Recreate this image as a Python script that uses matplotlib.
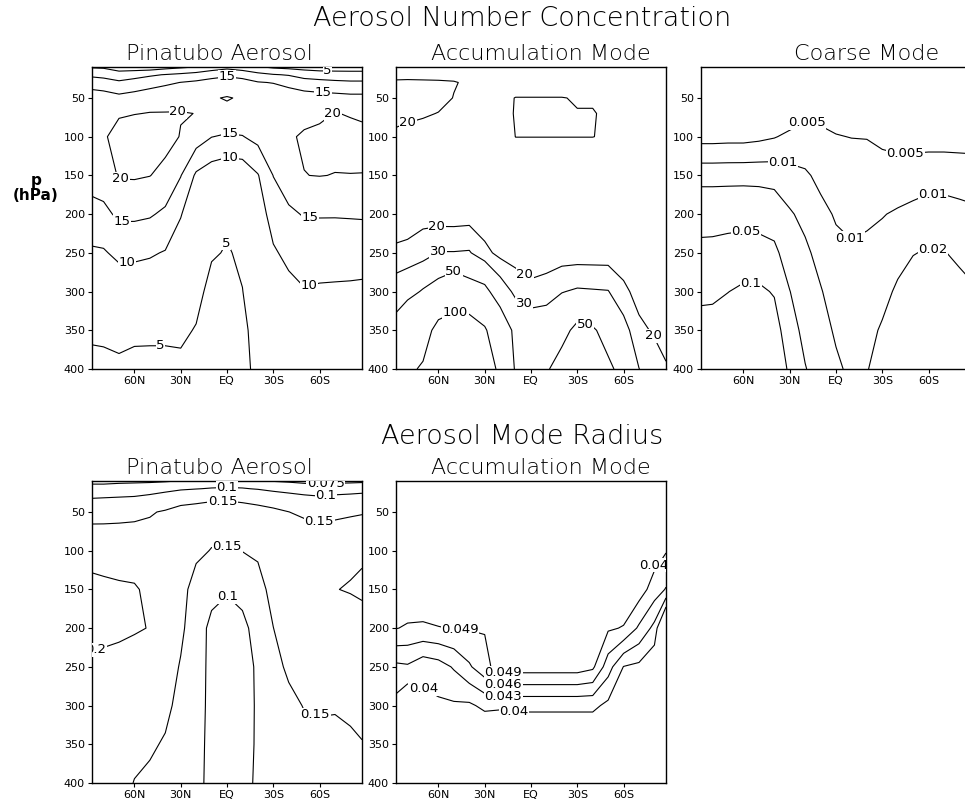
import numpy as np
import matplotlib
matplotlib.use('Agg')
import matplotlib.pyplot as plt

# grid: latitude columns (N -> S) and pressure levels (hPa)
lat = [87.5, 80, 70, 60, 50, 40, 30, 20, 10, 0, -10, -20, -30, -40, -50, -60, -70, -80, -87.5]
plev = [10, 20, 30, 50, 70, 100, 150, 200, 250, 300, 350, 400]

# one row per latitude column, values at plev (top -> bottom)
num_pinatubo = [
    [4.5, 9, 12.5, 18, 19, 19, 17, 13.3, 9.3, 7.3, 5.6, 4.0],
    [4.3, 8.5, 12, 17.5, 19.3, 19.5, 17.5, 13.8, 9.5, 7.5, 5.6, 4.2],
    [2.5, 7.2, 10.8, 16.4, 19.6, 21.5, 20.4, 15.9, 11.2, 6.6, 5.6, 4.6],
    [2.8, 7.5, 12.5, 16.7, 19.9, 22, 20.5, 15.9, 11.1, 6.5, 5.5, 4.3],
    [2.1, 9.4, 12.5, 18.75, 20.1, 22, 20.1, 15.5, 10.5, 6.9, 5.6, 4.1],
    [3.3, 10.2, 14, 19, 20.1, 21.5, 18.7, 14.1, 9.7, 7.5, 5.8, 3.8],
    [4.2, 11, 15.1, 18.5, 20.2, 19.8, 15.2, 10.2, 8.2, 6.8, 5.6, 4.3],
    [5.1, 12, 15.8, 19, 19.95, 17.5, 9.2, 7.5, 6.8, 6.0, 4.8, 4.2],
    [7, 13.5, 16.5, 19.6, 19.2, 15.1, 7.2, 6.3, 5.3, 4.0, 3.5, 3.3],
    [8.5, 14.3, 17, 20.3, 18.8, 14.4, 6.2, 5.5, 4.8, 3.4, 3.0, 2.8],
    [7.2, 13.5, 16.5, 19.5, 18.5, 14.8, 6.6, 5.8, 5.4, 4.95, 4.3, 4.0],
    [5.5, 11.5, 15.3, 19, 19.2, 16.5, 9.7, 7.5, 6.8, 6.5, 6.2, 5.9],
    [4.2, 10.3, 14.8, 18.5, 19.3, 19, 15.1, 12, 9.4, 8, 7.2, 6.6],
    [3.6, 9.7, 13.2, 18.6, 19.4, 19.7, 17.5, 14.2, 11.2, 8.6, 7.6, 7.0],
    [2.8, 8.5, 11.6, 17.8, 19.3, 20.3, 19.95, 15.3, 12.3, 9.7, 8.5, 8.0],
    [2.5, 7.5, 11.5, 17, 19.2, 21, 20.1, 15.5, 10.5, 9.86, 9.0, 8.5],
    [2.5, 7.2, 11, 16.8, 20.1, 21.2, 19.9, 15.4, 11.2, 9.6, 9.0, 8.7],
    [2.7, 6.9, 10.7, 16.4, 19.8, 20.9, 19.95, 15.5, 11.3, 9.5, 9.1, 8.9],
    [2.7, 6.9, 10.7, 16.4, 19.6, 20.7, 19.95, 15.6, 11.3, 9.4, 9.2, 9.1],
]

num_accum = [
    [17, 19, 20.5, 22, 21.5, 19, 17, 17, 21, 38, 60, 80],
    [17, 19, 20.6, 22, 21, 18.5, 17, 17.2, 21.5, 43, 75, 92],
    [17, 19, 20.5, 21.5, 20.4, 18.5, 17, 17.5, 24, 52, 80, 105],
    [17, 19, 20.4, 21, 19.9, 18, 16, 15.1, 30.5, 60, 115, 150],
    [17, 19, 20.2, 19.9, 18.5, 17.5, 16, 15, 30.5, 70, 125, 160],
    [17, 18.8, 19.5, 19, 18, 17, 16, 15.5, 31, 60, 128, 160],
    [17, 18.8, 19.5, 19, 18, 17, 15.5, 13, 23, 56, 105, 140],
    [17, 18.8, 19.5, 19, 18.3, 17.5, 16, 14, 17, 38, 68, 85],
    [17, 18.5, 18, 20.1, 20.3, 20.05, 16, 14, 15.5, 27, 44, 47],
    [17, 18.5, 18, 20.1, 20.3, 20.05, 16, 14, 15, 22.5, 40, 46],
    [17, 18.5, 18, 20.1, 20.3, 20.05, 16, 14, 15.5, 24, 41, 48],
    [17, 18.5, 18, 20.1, 20.3, 20.05, 16, 14.5, 15, 29.5, 44, 58],
    [17, 18.5, 18, 19.8, 20.1, 20.05, 16, 14.5, 15, 31.5, 55, 70],
    [17, 18.5, 18, 19.8, 20.1, 20.05, 16, 14.5, 15, 31, 52, 65],
    [17, 18.5, 18, 19.5, 19.7, 19.6, 16, 14.5, 15, 30.5, 44, 53],
    [17, 18.5, 18, 19.5, 19.5, 19.3, 16, 14.5, 15, 22, 35, 45],
    [17, 18.5, 18, 19.5, 19.5, 19.3, 16, 14.5, 15, 17, 22, 30.2],
    [17, 18.5, 18, 19.5, 19.5, 19.3, 16, 14.5, 15, 16.5, 19, 24],
    [17, 18.5, 18, 19.5, 19.5, 19.3, 16, 14.5, 15, 16, 18, 20.5],
]

num_coarse = [
    [0.0012, 0.0015, 0.0018, 0.0022, 0.0028, 0.0039, 0.0155, 0.037, 0.061, 0.086, 0.13, 0.16],
    [0.0012, 0.0015, 0.0018, 0.0022, 0.0028, 0.0039, 0.0155, 0.037, 0.062, 0.088, 0.13, 0.16],
    [0.0012, 0.0015, 0.0018, 0.0022, 0.0028, 0.0040, 0.0156, 0.038, 0.066, 0.099, 0.14, 0.18],
    [0.0012, 0.0015, 0.0018, 0.0022, 0.0028, 0.0040, 0.0157, 0.0386, 0.069, 0.111, 0.15, 0.19],
    [0.0012, 0.0015, 0.0018, 0.0023, 0.003, 0.0043, 0.0156, 0.0368, 0.0676, 0.111, 0.15, 0.19],
    [0.0013, 0.0016, 0.0019, 0.0025, 0.0035, 0.0048, 0.015, 0.033, 0.060, 0.0955, 0.13, 0.16],
    [0.0013, 0.0017, 0.002, 0.0027, 0.0034, 0.0058, 0.0126, 0.0217, 0.033, 0.051, 0.07, 0.09],
    [0.0014, 0.0018, 0.0023, 0.0034, 0.0043, 0.0063, 0.011, 0.0164, 0.023, 0.0303, 0.040, 0.052],
    [0.0015, 0.002, 0.0025, 0.0037, 0.0044, 0.0056, 0.0085, 0.0119, 0.0159, 0.021, 0.027, 0.035],
    [0.0014, 0.0018, 0.0023, 0.0038, 0.0043, 0.0051, 0.007, 0.0094, 0.0118, 0.0146, 0.018, 0.023],
    [0.0014, 0.0018, 0.0022, 0.0033, 0.0042, 0.00495, 0.0065, 0.0085, 0.0109, 0.0128, 0.015, 0.017],
    [0.0014, 0.0018, 0.0022, 0.0032, 0.0041, 0.0049, 0.0066, 0.0088, 0.0118, 0.014, 0.0165, 0.019],
    [0.0012, 0.0015, 0.0019, 0.0026, 0.0034, 0.0044, 0.0065, 0.0097, 0.0127, 0.0163, 0.0216, 0.030],
    [0.0011, 0.0014, 0.0017, 0.0023, 0.0029, 0.004, 0.0067, 0.0108, 0.0158, 0.0223, 0.028, 0.035],
    [0.0011, 0.0014, 0.0017, 0.0022, 0.0027, 0.0039, 0.007, 0.0121, 0.0196, 0.026, 0.033, 0.04],
    [0.0011, 0.0014, 0.0017, 0.0022, 0.0027, 0.0038, 0.0076, 0.0134, 0.021, 0.028, 0.034, 0.04],
    [0.0011, 0.0014, 0.0017, 0.0022, 0.0027, 0.0038, 0.0076, 0.0132, 0.0205, 0.027, 0.033, 0.038],
    [0.0011, 0.0014, 0.0017, 0.0022, 0.0027, 0.0038, 0.0073, 0.0122, 0.0179, 0.024, 0.029, 0.035],
    [0.0011, 0.0014, 0.0017, 0.0022, 0.0027, 0.0038, 0.0071, 0.0115, 0.016, 0.0219, 0.027, 0.032],
]

rad_pinatubo = [
    [0.0697, 0.0829, 0.0961, 0.129, 0.156, 0.18, 0.215, 0.207, 0.195, 0.185, 0.178, 0.17],
    [0.0694, 0.0833, 0.0972, 0.13, 0.156, 0.1765, 0.212, 0.206, 0.194, 0.184, 0.176, 0.17],
    [0.0708, 0.0847, 0.0986, 0.1327, 0.1567, 0.1767, 0.207, 0.204, 0.193, 0.18, 0.17, 0.16],
    [0.0714, 0.0857, 0.1001, 0.137, 0.1576, 0.1753, 0.2047, 0.203, 0.185, 0.168, 0.158, 0.149],
    [0.0719, 0.0875, 0.1042, 0.1458, 0.158, 0.172, 0.19, 0.199, 0.185, 0.17, 0.157, 0.14],
    [0.0732, 0.0911, 0.1114, 0.155, 0.165, 0.172, 0.18, 0.182, 0.175, 0.162, 0.145, 0.13],
    [0.0755, 0.0958, 0.1222, 0.17, 0.172, 0.17, 0.167, 0.16, 0.146, 0.135, 0.13, 0.125],
    [0.078, 0.099, 0.128, 0.175, 0.172, 0.16, 0.13, 0.12, 0.117, 0.115, 0.112, 0.11],
    [0.082, 0.102, 0.14, 0.17, 0.163, 0.148, 0.112, 0.09, 0.09, 0.09, 0.09, 0.09],
    [0.085, 0.103, 0.142, 0.17, 0.162, 0.147, 0.103, 0.085, 0.083, 0.082, 0.082, 0.083],
    [0.082, 0.102, 0.138, 0.168, 0.163, 0.151, 0.112, 0.09, 0.089, 0.09, 0.091, 0.092],
    [0.078, 0.098, 0.125, 0.17, 0.168, 0.157, 0.133, 0.115, 0.104, 0.103, 0.103, 0.104],
    [0.0741, 0.0926, 0.115, 0.162, 0.17, 0.172, 0.165, 0.1495, 0.135, 0.125, 0.12, 0.12],
    [0.0724, 0.0897, 0.1083, 0.1505, 0.165, 0.175, 0.18, 0.175, 0.158, 0.138, 0.13, 0.13],
    [0.07, 0.0867, 0.1036, 0.1393, 0.165, 0.177, 0.188, 0.186, 0.172, 0.152, 0.136, 0.13],
    [0.0685, 0.0847, 0.1008, 0.1325, 0.16, 0.178, 0.193, 0.19, 0.175, 0.154, 0.14, 0.137],
    [0.07, 0.0867, 0.1036, 0.137, 0.162, 0.185, 0.199, 0.192, 0.176, 0.153, 0.14, 0.137],
    [0.0707, 0.0879, 0.1056, 0.1426, 0.166, 0.192, 0.2025, 0.18, 0.172, 0.158, 0.143, 0.14],
    [0.0714, 0.0893, 0.1077, 0.1462, 0.168, 0.195, 0.206, 0.185, 0.175, 0.165, 0.148, 0.14],
]

rad_accum = [
    [0.053, 0.053, 0.053, 0.053, 0.053, 0.052, 0.051, 0.0491, 0.0423, 0.039, 0.037, 0.036],
    [0.053, 0.053, 0.053, 0.053, 0.053, 0.052, 0.051, 0.0487, 0.0426, 0.0367, 0.035, 0.034],
    [0.053, 0.053, 0.053, 0.053, 0.053, 0.052, 0.051, 0.0486, 0.041, 0.0392, 0.037, 0.035],
    [0.053, 0.053, 0.053, 0.053, 0.053, 0.052, 0.051, 0.0489, 0.0417, 0.0395, 0.037, 0.035],
    [0.053, 0.053, 0.053, 0.053, 0.053, 0.052, 0.051, 0.0491, 0.0433, 0.0396, 0.037, 0.035],
    [0.053, 0.053, 0.053, 0.053, 0.053, 0.052, 0.051, 0.0492, 0.0456, 0.0395, 0.037, 0.035],
    [0.053, 0.053, 0.053, 0.053, 0.053, 0.052, 0.051, 0.0492, 0.048, 0.0407, 0.036, 0.034],
    [0.053, 0.053, 0.053, 0.053, 0.053, 0.052, 0.052, 0.0515, 0.0505, 0.0405, 0.036, 0.034],
    [0.053, 0.053, 0.053, 0.053, 0.053, 0.052, 0.052, 0.0515, 0.0505, 0.0407, 0.0365, 0.034],
    [0.053, 0.053, 0.053, 0.053, 0.053, 0.052, 0.052, 0.0515, 0.0505, 0.0407, 0.0365, 0.034],
    [0.053, 0.053, 0.053, 0.053, 0.053, 0.052, 0.052, 0.0515, 0.0505, 0.0407, 0.0365, 0.034],
    [0.053, 0.053, 0.053, 0.053, 0.053, 0.052, 0.052, 0.0515, 0.0505, 0.0407, 0.0365, 0.034],
    [0.053, 0.053, 0.053, 0.053, 0.053, 0.052, 0.052, 0.0515, 0.0505, 0.0407, 0.0365, 0.034],
    [0.053, 0.053, 0.053, 0.053, 0.053, 0.052, 0.052, 0.0515, 0.0496, 0.0407, 0.0365, 0.034],
    [0.053, 0.053, 0.053, 0.053, 0.053, 0.052, 0.0515, 0.0494, 0.0443, 0.0393, 0.036, 0.034],
    [0.053, 0.053, 0.053, 0.053, 0.053, 0.052, 0.0515, 0.0488, 0.0399, 0.037, 0.035, 0.034],
    [0.053, 0.053, 0.053, 0.053, 0.053, 0.052, 0.0505, 0.0455, 0.0393, 0.037, 0.035, 0.034],
    [0.053, 0.053, 0.053, 0.053, 0.052, 0.0505, 0.0476, 0.0421, 0.0373, 0.036, 0.035, 0.034],
    [0.053, 0.053, 0.053, 0.053, 0.052, 0.0492, 0.0458, 0.033, 0.033, 0.033, 0.033, 0.033],
]

lev_num_pin = [5, 10, 15, 20]
lev_num_acc = [20, 30, 50, 100]
lev_num_crs = [0.005, 0.01, 0.02, 0.05, 0.1]
lev_rad_pin = [0.075, 0.1, 0.15, 0.2]
lev_rad_acc = [0.04, 0.043, 0.046, 0.049]

# where the contour labels sit (lat, p)
lab_num_pin = [(-65, 16), (0, 22), (-62, 42), (32, 66), (69, 164), (-69, 72), (-2, 93),
               (68, 212), (-54, 213), (-2, 124), (65, 264), (-54, 297), (1, 237), (43, 365)]
lab_num_acc = [(80, 82), (61, 216), (61, 244), (50, 273), (49, 328), (5, 281), (5, 317),
               (-36, 335), (-77, 360)]
lab_num_crs = [(19, 82), (-45, 124), (34, 129), (-8, 233), (-63, 168), (-63, 241),
               (58, 216), (55, 288)]
lab_rad_pin = [(0, 17), (-64, 13), (-64, 29), (3, 35), (-60, 61), (0, 95), (0, 161),
               (85, 228), (-56, 318)]
lab_rad_acc = [(46, 203), (18, 259), (-81, 117), (18, 276), (18, 293), (11, 310), (69, 276)]

xticks = [60, 30, 0, -30, -60]
xticklabels = ['60N', '30N', 'EQ', '30S', '60S']
yticks = [50, 100, 150, 200, 250, 300, 350, 400]

W, H = 965, 800
fig = plt.figure(figsize=(W / 100, H / 100), dpi=100)


def panel(left_px, top_px, data, levs, labpos, logz=False):
    ax = fig.add_axes([left_px / W, 1 - (top_px + 302) / H, 270 / W, 302 / H])
    z = np.array(data).T
    lv = np.array(levs)
    if logz:
        z = np.log10(z)
        lv = np.log10(lv)
    ax.set_xlim(87.5, -87.5)
    ax.set_ylim(400, 10)
    cs = ax.contour(lat, plev, z, levels=lv, colors='black', linewidths=0.8,
                    linestyles='solid')
    fmt = (lambda v: f'{10 ** v:g}') if logz else (lambda v: f'{v:g}')
    txt = ax.clabel(cs, manual=labpos, inline=False, fmt=fmt, fontsize=9.5)
    for t in txt:
        t.set_rotation(0)
        t.set_bbox(dict(facecolor='white', edgecolor='none', pad=0.4))
        t.set_clip_path(ax.patch)
    ax.set_xticks(xticks)
    ax.set_xticklabels(xticklabels)
    ax.set_yticks(yticks)
    ax.tick_params(direction='out', length=3, width=0.8, labelsize=8, pad=2)
    for s in ax.spines.values():
        s.set_linewidth(1.0)
    return ax


panel(92, 67, num_pinatubo, lev_num_pin, lab_num_pin)
panel(396, 67, num_accum, lev_num_acc, lab_num_acc)
panel(701, 67, num_coarse, lev_num_crs, lab_num_crs, logz=True)
panel(92, 481, rad_pinatubo, lev_rad_pin, lab_rad_pin)
panel(396, 481, rad_accum, lev_rad_acc, lab_rad_acc)


def ftext(x, y, s, **kw):
    fig.text(x / W, 1 - y / H, s, ha='center', va='center', **kw)


ftext(522, 19, 'Aerosol Number Concentration', fontsize=19.5, fontweight='light')
ftext(219, 54, 'Pinatubo Aerosol', fontsize=16, fontweight='light')
ftext(541, 54, 'Accumulation Mode', fontsize=16, fontweight='light')
ftext(867, 54, 'Coarse Mode', fontsize=16, fontweight='light')
ftext(522, 437, 'Aerosol Mode Radius', fontsize=19.5, fontweight='light')
ftext(219, 468, 'Pinatubo Aerosol', fontsize=16, fontweight='light')
ftext(541, 468, 'Accumulation Mode', fontsize=16, fontweight='light')
ftext(36, 188, 'p\n(hPa)', fontsize=11, fontweight='bold', linespacing=1.0)

fig.savefig('out.png', dpi=100)
